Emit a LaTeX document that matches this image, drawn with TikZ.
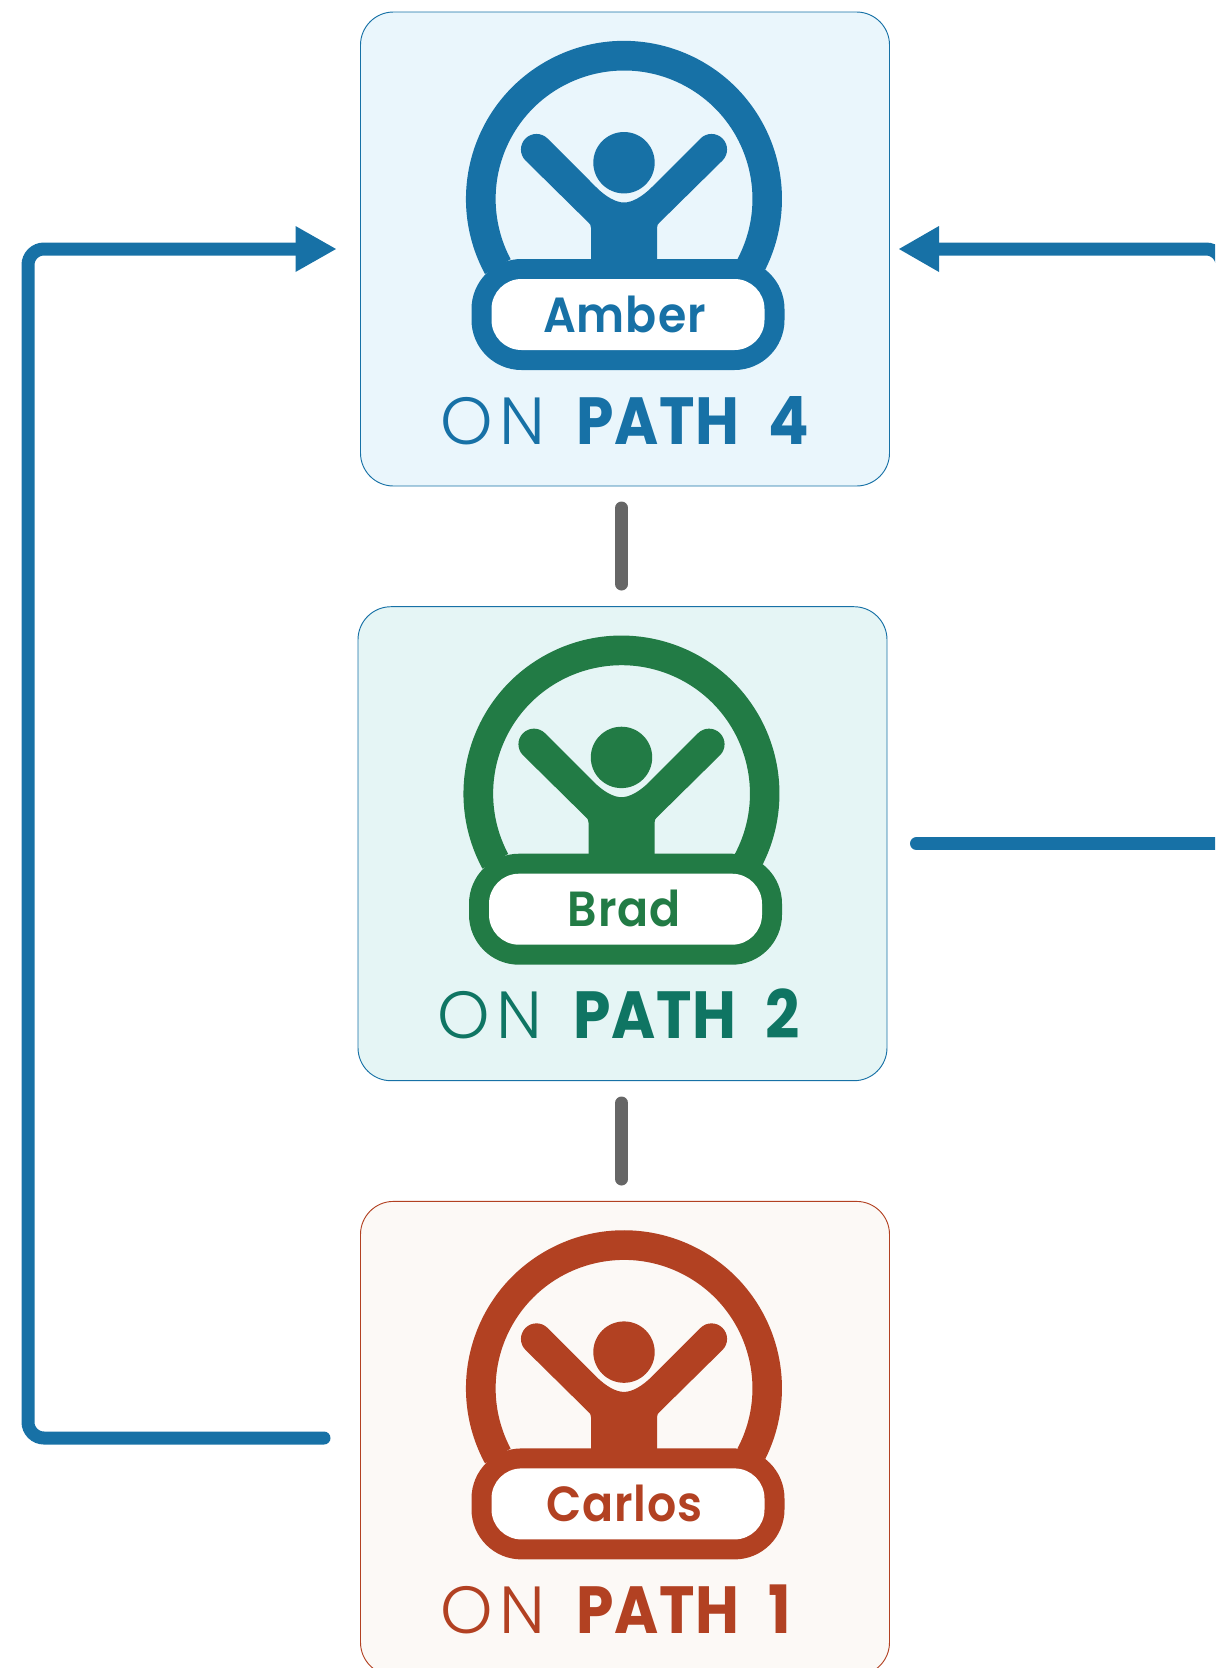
\documentclass[tikz,border=0pt]{standalone}
\usepackage{fontspec}
\setmainfont{Poppins}
\newfontfamily\lightf[LetterSpace=10]{Poppins Light}
\newfontfamily\boldf[LetterSpace=1,FakeStretch=0.9]{Poppins Bold}
\newfontfamily\namef[LetterSpace=2,FakeStretch=0.93]{Poppins SemiBold}
\definecolor{pblue}{HTML}{1771A6}
\definecolor{pgreen}{HTML}{227B45}
\definecolor{pteal}{HTML}{0F7563}
\definecolor{pred}{HTML}{B24122}
\definecolor{fblue}{HTML}{EAF6FC}
\definecolor{fteal}{HTML}{E5F5F5}
\definecolor{fred}{HTML}{FCF9F6}
\definecolor{pgrey}{HTML}{666666}
\tikzset{
  cardbox/.style={draw=#1,line width=0.7pt,rounded corners=24.75pt},
  bluelink/.style={draw=pblue,line width=9.75pt,rounded corners=12pt},
  greylink/.style={draw=pgrey,line width=9.75pt,line cap=round},
  labeltext/.style={inner sep=0pt,anchor=base west,font=\fontsize{50}{50}\selectfont},
  nametext/.style={inner sep=0pt,anchor=base,font=\namef\fontsize{37}{37}\selectfont},
}
% #1 name, #2 x offset, #3 y offset, #4 icon colour, #5 fill, #6 border, #7 text colour, #8 person, #9 number
\newcommand{\pathcard}[9]{%
\begin{scope}[shift={(#2,#3)}]
  \path[cardbox=#6,fill=#5] (360.5,12) rectangle (889.5,486);
  % ring
  \path[fill=#4] (485,274) arc[start angle=151.6,end angle=386.6,radius=158] -- (737.5,259) arc[start angle=27.9,end angle=-208,radius=128.4] -- cycle;
  % person
  \path[fill=#4] (624,162.7) circle[radius=30.7];
  \path[fill=#4] (591,265) -- (591,228) .. controls (591,225) and (590,224) .. (588.6,222.7)
     -- (525.5,160.5) arc[start angle=135,end angle=315,radius=15.56]
     -- (596,187) .. controls (606,197) and (616,202.5) .. (624,202.5) .. controls (632,202.5) and (642,197) .. (652,187)
     -- (700.5,138.5) arc[start angle=225,end angle=405,radius=15.56]
     -- (659.4,222.7) .. controls (658,224) and (657,225) .. (657,228) -- (657,265) -- cycle;
  % pill
  \path[fill=#4,rounded corners=37.5pt] (471.5,259) rectangle (784.5,370);
  \path[fill=white,rounded corners=22.5pt] (491.5,279) rectangle (764.5,350);
  \node[nametext,text=#4] (#1name) at (624.5,332) {#8};
  \node[labeltext,text=#7] (#1label) at (440,444) {\makebox[102pt][l]{\lightf ON }\makebox[144pt][l]{\boldf PATH }{\boldf #9}};
\end{scope}}
\begin{document}
\begin{tikzpicture}[x=0.75pt,y=-0.75pt]
\useasboundingbox (0,0) rectangle (1215,1668);
\begin{scope}
\clip (0,0) rectangle (1215,1668);
\pathcard{amber}{0}{0}{pblue}{fblue}{pblue}{pblue}{Amber}{4}
\pathcard{brad}{-2.5}{594.7}{pgreen}{fteal}{pblue}{pteal}{\hspace{3.75pt}Brad}{2}
\pathcard{carlos}{0}{1189.4}{pred}{fred}{pred}{pred}{Carlos}{1}
\coordinate (leftFoot) at (324,1438);
\coordinate (leftArrow) at (300,249);
\coordinate (rightCorner) at (1222,249);
\coordinate (rightDown) at (1222,400);
\coordinate (rightArrow) at (935,249);
\coordinate (bradEnd) at (1225,843.6);
\coordinate (bradStart) at (916.5,843.6);
\coordinate (greyA) at (621.7,508);
\coordinate (greyB) at (621.7,584);
\coordinate (greyC) at (621.7,1103);
\coordinate (greyD) at (621.7,1179);
\draw[bluelink,line cap=round] (leftFoot) -- (28,1438) -- (28,249) -- (leftArrow);
\path[fill=pblue] (295.5,226) -- (336,249) -- (295.5,272) -- cycle;
\draw[bluelink] (rightDown) -- (rightCorner) -- (rightArrow);
\path[fill=pblue] (939,226) -- (899,249) -- (939,272) -- cycle;
\draw[bluelink,line cap=round] (bradStart) -- (bradEnd);
\draw[greylink] (greyA) -- (greyB);
\draw[greylink] (greyC) -- (greyD);
\end{scope}
\end{tikzpicture}
\end{document}
